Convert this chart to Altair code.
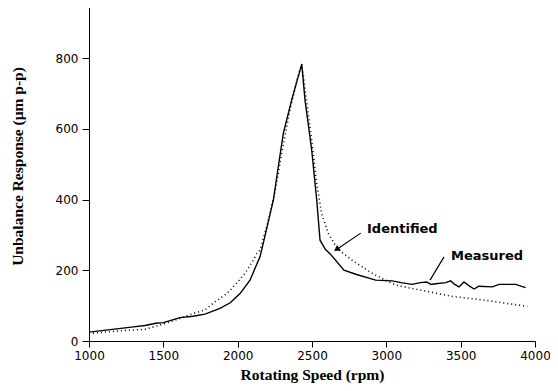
import altair as alt
import pandas as pd

# Measured response (solid)
meas_rpm = [1000, 1100, 1200, 1300, 1377, 1450, 1500, 1612, 1700, 1780, 1881, 1950, 2016, 2083,
            2150, 2172, 2240, 2273, 2307, 2363, 2431, 2453, 2498, 2532, 2554, 2592, 2621, 2715,
            2800, 2928, 3038, 3100, 3172, 3230, 3272, 3300, 3332, 3400, 3433, 3460, 3489, 3522,
            3560, 3590, 3623, 3713, 3758, 3870, 3937]
meas_val = [25, 30, 35, 40, 44, 50, 52, 66, 70, 76, 92, 108, 134, 172,
            238, 276, 398, 492, 587, 681, 783, 681, 540, 398, 285, 258, 247, 200,
            188, 172, 170, 165, 160, 165, 167, 160, 162, 165, 170, 160, 153, 167,
            155, 147, 155, 153, 160, 160, 151]

# Identified response (dotted)
iden_rpm = [1000, 1100, 1250, 1377, 1500, 1600, 1702, 1780, 1836, 1926, 1960, 2049, 2105, 2128,
            2150, 2200, 2250, 2300, 2350, 2400, 2431, 2460, 2500, 2530, 2565, 2610, 2670, 2771,
            2906, 3063, 3242, 3444, 3668, 3948]
iden_val = [21, 25, 30, 33, 48, 62, 78, 88, 107, 134, 148, 191, 228, 247,
            257, 330, 420, 540, 650, 740, 783, 690, 560, 450, 360, 304, 261, 228,
            191, 158, 143, 126, 115, 98]

x_ticks = [1000, 1250, 1500, 1750, 2000, 2250, 2500, 2750, 3000, 3250, 3500, 3750, 4000]
y_ticks = [0, 100, 200, 300, 400, 500, 600, 700, 800, 900]

# annotation labels (data units)
lab_text = ["Identified", "Measured"]
lab_rpm = [2870, 3435]
lab_val = [316, 240]
# leader lines: tail -> head
lead_rpm = [2828, 3388]
lead_val = [305, 238]
lead_rpm2 = [2665, 3294]
lead_val2 = [259, 172]

meas = pd.DataFrame({"rpm": meas_rpm, "val": meas_val})
iden = pd.DataFrame({"rpm": iden_rpm, "val": iden_val})
labs = pd.DataFrame({"t": lab_text, "rpm": lab_rpm, "val": lab_val})
leads = pd.DataFrame({"rpm": lead_rpm, "val": lead_val, "rpm2": lead_rpm2, "val2": lead_val2})
head = pd.DataFrame({"rpm": [lead_rpm2[0]], "val": [lead_val2[0]]})

xs = alt.Scale(domain=[1000, 4000], nice=False, zero=False)
ys = alt.Scale(domain=[0, 950], nice=False, zero=False)

xaxis = alt.Axis(
    values=x_ticks,
    labelExpr="datum.value % 500 == 0 ? datum.label : ''",
    format="d",
    tickSize={"condition": {"test": "datum.value % 500 == 0", "value": 6}, "value": 4},
    title="Rotating Speed (rpm)",
    titleFont="Liberation Serif", titleFontSize=15.5, titleFontWeight="bold",
    titleX=223, titleY=38, titleBaseline="alphabetic", titleAlign="center",
    labelFont="DejaVu Sans", labelFontSize=12, labelPadding=3,
    grid=False, domainColor="black", tickColor="black", labelColor="black", titleColor="black",
    labelFlush=False, labelOverlap=False,
)
yaxis = alt.Axis(
    values=y_ticks,
    labelExpr="datum.value % 200 == 0 ? datum.label : ''",
    format="d",
    tickSize={"condition": {"test": "datum.value % 200 == 0", "value": 7}, "value": 3},
    title="Unbalance Response (\u03bcm p-p)",
    titleFont="Liberation Serif", titleFontSize=15.5, titleFontWeight="bold",
    titleAngle=270, titleX=-72, titleY=161, titleBaseline="middle", titleAlign="center",
    labelFont="DejaVu Sans", labelFontSize=12, labelPadding=4,
    grid=False, domainColor="black", tickColor="black", labelColor="black", titleColor="black",
    labelFlush=False, labelOverlap=False,
)

base_x = alt.X("rpm:Q", scale=xs, axis=xaxis)
base_y = alt.Y("val:Q", scale=ys, axis=yaxis)

line_meas = alt.Chart(meas).mark_line(color="black", strokeWidth=1.4).encode(x=base_x, y=base_y)
line_iden = alt.Chart(iden).mark_line(color="black", strokeWidth=1.6, strokeDash=[1, 3]).encode(
    x=alt.X("rpm:Q", scale=xs), y=alt.Y("val:Q", scale=ys))

texts = alt.Chart(labs).mark_text(
    align="left", baseline="middle", font="DejaVu Sans", fontSize=13,
    fontWeight="bold", color="black"
).encode(x=alt.X("rpm:Q", scale=xs), y=alt.Y("val:Q", scale=ys), text="t:N")

rules = alt.Chart(leads).mark_rule(color="black", strokeWidth=1.2).encode(
    x=alt.X("rpm:Q", scale=xs), y=alt.Y("val:Q", scale=ys), x2="rpm2:Q", y2="val2:Q")

heads = alt.Chart(head).mark_point(
    shape="triangle-up", filled=True, color="black", size=45, angle=236, opacity=1
).encode(x=alt.X("rpm:Q", scale=xs), y=alt.Y("val:Q", scale=ys))

chart = alt.layer(line_meas, line_iden, rules, heads, texts).properties(
    width=446, height=336,
    autosize=alt.AutoSizeParams(type="none"),
    padding={"left": 81, "top": -3, "right": 15, "bottom": 42},
).configure_view(stroke=None).configure_axis(domainWidth=1, tickWidth=1)

chart.save("out.html", embed_options={"renderer": "svg", "actions": False})
